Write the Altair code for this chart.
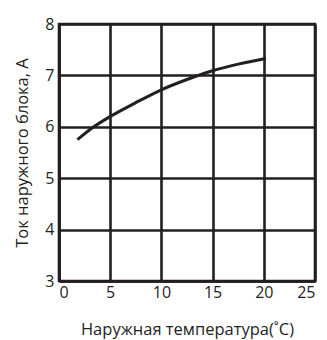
import altair as alt
import pandas as pd

temps = [1.8, 3.4, 5, 7.5, 10, 12.5, 15, 17.5, 20.2]
currents = [5.75, 6.0, 6.2, 6.47, 6.72, 6.92, 7.09, 7.22, 7.33]
x_ticks = [0, 5, 10, 15, 20, 25]
y_ticks = [3, 4, 5, 6, 7, 8]

df = pd.DataFrame({"t": temps, "i": currents})
FONT = "Open Sans"
INK = "#231f20"

chart = alt.Chart(df).mark_line(
    color=INK, strokeWidth=3, interpolate="monotone"
).encode(
    x=alt.X("t:Q", scale=alt.Scale(domain=[0, 25], nice=False, zero=False),
            axis=alt.Axis(values=x_ticks, title="Наружная температура(˚C)",
                          titlePadding=21, labelPadding=3)),
    y=alt.Y("i:Q", scale=alt.Scale(domain=[3, 8], nice=False, zero=False),
            axis=alt.Axis(values=y_ticks, title="Ток наружного блока, А",
                          titlePadding=14, labelPadding=5)),
).properties(
    width=256, height=257,
    autosize=alt.AutoSizeParams(type="none"),
    padding={"left": 51, "top": 16, "right": 3, "bottom": 58},
).configure_axis(
    grid=True, gridColor=INK, gridWidth=2.6, gridOpacity=1,
    domain=True, domainColor=INK, domainWidth=2.6,
    ticks=False,
    labelFont=FONT, labelFontSize=16, labelColor=INK,
    titleFont=FONT, titleFontSize=16.5, titleColor=INK, titleFontWeight="normal",
).configure_view(stroke=INK, strokeWidth=2.6)

chart.save("out.html", embed_options={"renderer": "svg", "actions": False})
